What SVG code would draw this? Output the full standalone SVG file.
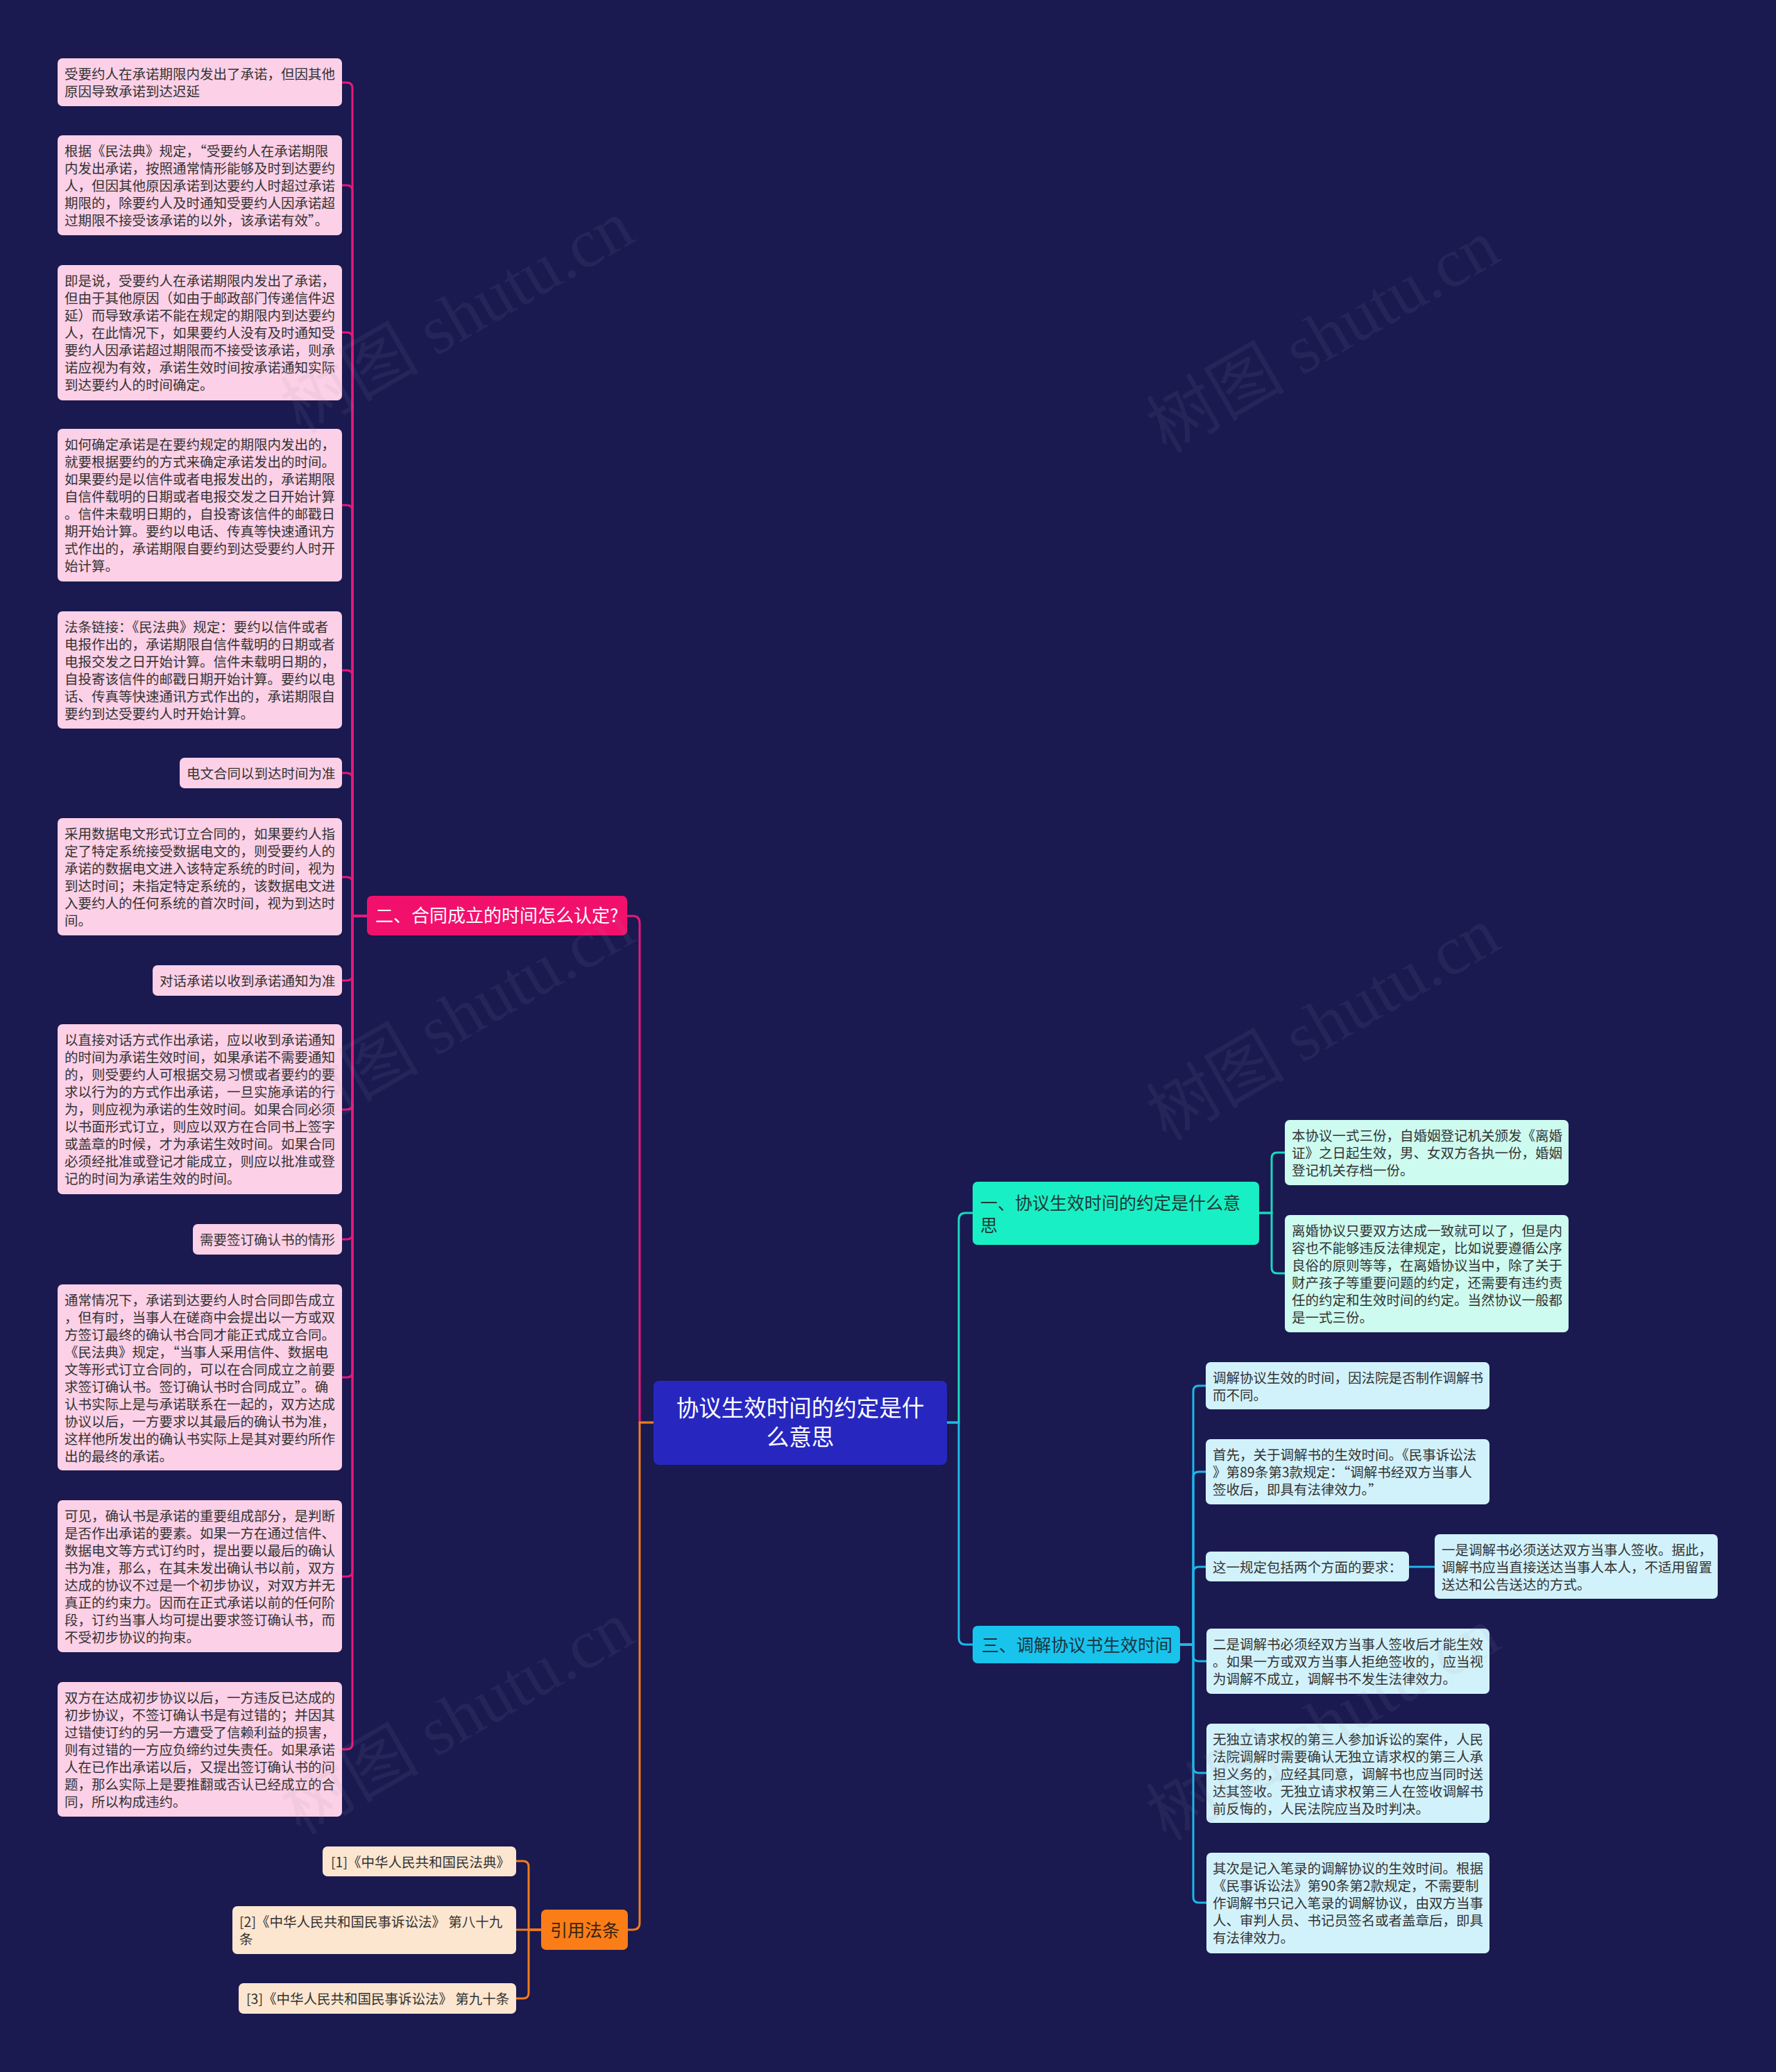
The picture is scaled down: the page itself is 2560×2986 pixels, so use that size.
<svg xmlns="http://www.w3.org/2000/svg" width="2560" height="2986" viewBox="0 0 2560 2986">
<style>
text{font-family:"Noto Sans CJK SC","Noto Sans",sans-serif}
.t{font-size:19.5px;fill:#333}
.pk{fill:#fcd0e6}
.mt{fill:#cdfbef}
.cy{fill:#d2f2fb}
.rf{fill:#fde6cf}
.ln{fill:none;stroke-width:3;stroke-linecap:round}
.wm{font-family:"Liberation Serif","Noto Sans CJK SC",serif;font-size:100px;fill:#9a9ab0;opacity:0.09}
</style>
<rect width="2560" height="2986" fill="#1a1950"/>

<g id="connectors">
<g stroke="#e8187a" class="ln">
<path d="M942,2050 H922 V1330 Q922,1320 912,1320 H904"/>
<path d="M529,1320 H508 V127 Q508,119 500,119 H493"/>
<path d="M529,1320 H508 V275 Q508,267 500,267 H493"/>
<path d="M529,1320 H508 V487 Q508,479 500,479 H493"/>
<path d="M529,1320 H508 V736 Q508,728 500,728 H493"/>
<path d="M529,1320 H508 V974 Q508,966 500,966 H493"/>
<path d="M529,1320 H508 V1122 Q508,1114 500,1114 H493"/>
<path d="M529,1320 H508 V1272 Q508,1264 500,1264 H493"/>
<path d="M529,1320 H508 V1405 Q508,1413 500,1413 H493"/>
<path d="M529,1320 H508 V1591 Q508,1599 500,1599 H493"/>
<path d="M529,1320 H508 V1778 Q508,1786 500,1786 H493"/>
<path d="M529,1320 H508 V1977 Q508,1985 500,1985 H493"/>
<path d="M529,1320 H508 V2264 Q508,2272 500,2272 H493"/>
<path d="M529,1320 H508 V2513 Q508,2521 500,2521 H493"/>
</g>
<g stroke="#f07c1c" class="ln">
<path d="M942,2050 H922 V2771 Q922,2781 912,2781 H905"/>
<path d="M780,2781 H762 V2690 Q762,2682 754,2682 H744"/>
<path d="M780,2781 H744"/>
<path d="M780,2781 H762 V2872 Q762,2880 754,2880 H744"/>
</g>
<g stroke="#1ad8c0" class="ln">
<path d="M1365,2050 H1382 V1758 Q1382,1748 1392,1748 H1402"/>
<path d="M1815,1748 H1833 V1669 Q1833,1661 1841,1661 H1852"/>
<path d="M1815,1748 H1833 V1827 Q1833,1835 1841,1835 H1852"/>
</g>
<g stroke="#1cb8e8" class="ln">
<path d="M1365,2050 H1382 V2360 Q1382,2370 1392,2370 H1402"/>
<path d="M1701,2370 H1720 V2005 Q1720,1997 1728,1997 H1738"/>
<path d="M1701,2370 H1720 V2129 Q1720,2121 1728,2121 H1738"/>
<path d="M1701,2370 H1720 V2266 Q1720,2258 1728,2258 H1738"/>
<path d="M2031,2258 H2068"/>
<path d="M1701,2370 H1720 V2386 Q1720,2394 1728,2394 H1739"/>
<path d="M1701,2370 H1720 V2547 Q1720,2555 1728,2555 H1739"/>
<path d="M1701,2370 H1720 V2734 Q1720,2742 1728,2742 H1739"/>
</g>
</g>

<g id="root">
<rect x="942" y="1990" width="423" height="121" rx="8" fill="#2727c0"/>
<text font-size="32.5" fill="#fff" text-anchor="middle"><tspan x="1153.5" y="2041">协议生效时间的约定是什</tspan><tspan x="1153.5" y="2083">么意思</tspan></text>
</g>

<g id="branch2">
<rect x="529" y="1291" width="375" height="57" rx="7" fill="#f2106d"/>
<text x="541" y="1329" font-size="26" fill="#fff">二、合同成立的时间怎么认定?</text>
</g>

<g id="n1"><rect class="pk" x="83" y="84" width="410" height="69" rx="7"/><text class="t"><tspan x="93" y="113.5">受要约人在承诺期限内发出了承诺，但因其他</tspan><tspan x="93" y="138.5">原因导致承诺到达迟延</tspan></text></g>
<g id="n2"><rect class="pk" x="83" y="195" width="410" height="144" rx="7"/><text class="t"><tspan x="93" y="224.5">根据《民法典》规定，“受要约人在承诺期限</tspan><tspan x="93" y="249.5">内发出承诺，按照通常情形能够及时到达要约</tspan><tspan x="93" y="274.5">人，但因其他原因承诺到达要约人时超过承诺</tspan><tspan x="93" y="299.5">期限的，除要约人及时通知受要约人因承诺超</tspan><tspan x="93" y="324.5">过期限不接受该承诺的以外，该承诺有效”。</tspan></text></g>
<g id="n3"><rect class="pk" x="83" y="382" width="410" height="195" rx="7"/><text class="t"><tspan x="93" y="411.5">即是说，受要约人在承诺期限内发出了承诺，</tspan><tspan x="93" y="436.5">但由于其他原因（如由于邮政部门传递信件迟</tspan><tspan x="93" y="461.5">延）而导致承诺不能在规定的期限内到达要约</tspan><tspan x="93" y="486.5">人，在此情况下，如果要约人没有及时通知受</tspan><tspan x="93" y="511.5">要约人因承诺超过期限而不接受该承诺，则承</tspan><tspan x="93" y="536.5">诺应视为有效，承诺生效时间按承诺通知实际</tspan><tspan x="93" y="561.5">到达要约人的时间确定。</tspan></text></g>
<g id="n4"><rect class="pk" x="83" y="618" width="410" height="220" rx="7"/><text class="t"><tspan x="93" y="647.5">如何确定承诺是在要约规定的期限内发出的，</tspan><tspan x="93" y="672.5">就要根据要约的方式来确定承诺发出的时间。</tspan><tspan x="93" y="697.5">如果要约是以信件或者电报发出的，承诺期限</tspan><tspan x="93" y="722.5">自信件载明的日期或者电报交发之日开始计算</tspan><tspan x="93" y="747.5">。信件未载明日期的，自投寄该信件的邮戳日</tspan><tspan x="93" y="772.5">期开始计算。要约以电话、传真等快速通讯方</tspan><tspan x="93" y="797.5">式作出的，承诺期限自要约到达受要约人时开</tspan><tspan x="93" y="822.5">始计算。</tspan></text></g>
<g id="n5"><rect class="pk" x="83" y="881" width="410" height="169" rx="7"/><text class="t"><tspan x="93" y="910.5">法条链接：《民法典》规定：要约以信件或者</tspan><tspan x="93" y="935.5">电报作出的，承诺期限自信件载明的日期或者</tspan><tspan x="93" y="960.5">电报交发之日开始计算。信件未载明日期的，</tspan><tspan x="93" y="985.5">自投寄该信件的邮戳日期开始计算。要约以电</tspan><tspan x="93" y="1010.5">话、传真等快速通讯方式作出的，承诺期限自</tspan><tspan x="93" y="1035.5">要约到达受要约人时开始计算。</tspan></text></g>
<g id="n6"><rect class="pk" x="259" y="1092" width="234" height="44" rx="7"/><text class="t" x="269" y="1121.5">电文合同以到达时间为准</text></g>
<g id="n7"><rect class="pk" x="83" y="1179" width="410" height="169" rx="7"/><text class="t"><tspan x="93" y="1208.5">采用数据电文形式订立合同的，如果要约人指</tspan><tspan x="93" y="1233.5">定了特定系统接受数据电文的，则受要约人的</tspan><tspan x="93" y="1258.5">承诺的数据电文进入该特定系统的时间，视为</tspan><tspan x="93" y="1283.5">到达时间；未指定特定系统的，该数据电文进</tspan><tspan x="93" y="1308.5">入要约人的任何系统的首次时间，视为到达时</tspan><tspan x="93" y="1333.5">间。</tspan></text></g>
<g id="n8"><rect class="pk" x="220" y="1391" width="273" height="44" rx="7"/><text class="t" x="230" y="1420.5">对话承诺以收到承诺通知为准</text></g>
<g id="n9"><rect class="pk" x="83" y="1476" width="410" height="245" rx="7"/><text class="t"><tspan x="93" y="1505.5">以直接对话方式作出承诺，应以收到承诺通知</tspan><tspan x="93" y="1530.5">的时间为承诺生效时间，如果承诺不需要通知</tspan><tspan x="93" y="1555.5">的，则受要约人可根据交易习惯或者要约的要</tspan><tspan x="93" y="1580.5">求以行为的方式作出承诺，一旦实施承诺的行</tspan><tspan x="93" y="1605.5">为，则应视为承诺的生效时间。如果合同必须</tspan><tspan x="93" y="1630.5">以书面形式订立，则应以双方在合同书上签字</tspan><tspan x="93" y="1655.5">或盖章的时候，才为承诺生效时间。如果合同</tspan><tspan x="93" y="1680.5">必须经批准或登记才能成立，则应以批准或登</tspan><tspan x="93" y="1705.5">记的时间为承诺生效的时间。</tspan></text></g>
<g id="n10"><rect class="pk" x="278" y="1764" width="215" height="44" rx="7"/><text class="t" x="288" y="1793.5">需要签订确认书的情形</text></g>
<g id="n11"><rect class="pk" x="83" y="1851" width="410" height="268" rx="7"/><text class="t"><tspan x="93" y="1880.5">通常情况下，承诺到达要约人时合同即告成立</tspan><tspan x="93" y="1905.5">，但有时，当事人在磋商中会提出以一方或双</tspan><tspan x="93" y="1930.5">方签订最终的确认书合同才能正式成立合同。</tspan><tspan x="93" y="1955.5">《民法典》规定，“当事人采用信件、数据电</tspan><tspan x="93" y="1980.5">文等形式订立合同的，可以在合同成立之前要</tspan><tspan x="93" y="2005.5">求签订确认书。签订确认书时合同成立”。确</tspan><tspan x="93" y="2030.5">认书实际上是与承诺联系在一起的，双方达成</tspan><tspan x="93" y="2055.5">协议以后，一方要求以其最后的确认书为准，</tspan><tspan x="93" y="2080.5">这样他所发出的确认书实际上是其对要约所作</tspan><tspan x="93" y="2105.5">出的最终的承诺。</tspan></text></g>
<g id="n12"><rect class="pk" x="83" y="2162" width="410" height="219" rx="7"/><text class="t"><tspan x="93" y="2191.5">可见，确认书是承诺的重要组成部分，是判断</tspan><tspan x="93" y="2216.5">是否作出承诺的要素。如果一方在通过信件、</tspan><tspan x="93" y="2241.5">数据电文等方式订约时，提出要以最后的确认</tspan><tspan x="93" y="2266.5">书为准，那么，在其未发出确认书以前，双方</tspan><tspan x="93" y="2291.5">达成的协议不过是一个初步协议，对双方并无</tspan><tspan x="93" y="2316.5">真正的约束力。因而在正式承诺以前的任何阶</tspan><tspan x="93" y="2341.5">段，订约当事人均可提出要求签订确认书，而</tspan><tspan x="93" y="2366.5">不受初步协议的拘束。</tspan></text></g>
<g id="n13"><rect class="pk" x="83" y="2424" width="410" height="194" rx="7"/><text class="t"><tspan x="93" y="2453.5">双方在达成初步协议以后，一方违反已达成的</tspan><tspan x="93" y="2478.5">初步协议，不签订确认书是有过错的；并因其</tspan><tspan x="93" y="2503.5">过错使订约的另一方遭受了信赖利益的损害，</tspan><tspan x="93" y="2528.5">则有过错的一方应负缔约过失责任。如果承诺</tspan><tspan x="93" y="2553.5">人在已作出承诺以后，又提出签订确认书的问</tspan><tspan x="93" y="2578.5">题，那么实际上是要推翻或否认已经成立的合</tspan><tspan x="93" y="2603.5">同，所以构成违约。</tspan></text></g>

<g id="refs">
<rect x="780" y="2752" width="125" height="58" rx="7" fill="#fa7d17"/>
<text x="793" y="2790.5" font-size="25" fill="#3a2412">引用法条</text>
</g>
<g id="r1"><rect class="rf" x="465" y="2661" width="279" height="43" rx="7"/><text class="t" x="477" y="2690.5">[1]《中华人民共和国民法典》</text></g>
<g id="r2"><rect class="rf" x="335" y="2747" width="409" height="69" rx="7"/><text class="t"><tspan x="345" y="2776.5">[2]《中华人民共和国民事诉讼法》 第八十九</tspan><tspan x="345" y="2801.5">条</tspan></text></g>
<g id="r3"><rect class="rf" x="344" y="2858" width="400" height="44" rx="7"/><text class="t" x="355" y="2887.5">[3]《中华人民共和国民事诉讼法》 第九十条</text></g>

<g id="branch1">
<rect x="1402" y="1703" width="413" height="91" rx="7" fill="#19efc4"/>
<text font-size="25" fill="#1f3a36"><tspan x="1413" y="1742.5">一、协议生效时间的约定是什么意</tspan><tspan x="1413" y="1774.5">思</tspan></text>
</g>
<g id="a1"><rect class="mt" x="1852" y="1614" width="409" height="94" rx="7"/><text class="t"><tspan x="1862" y="1643.5">本协议一式三份，自婚姻登记机关颁发《离婚</tspan><tspan x="1862" y="1668.5">证》之日起生效，男、女双方各执一份，婚姻</tspan><tspan x="1862" y="1693.5">登记机关存档一份。</tspan></text></g>
<g id="a2"><rect class="mt" x="1852" y="1751" width="409" height="169" rx="7"/><text class="t"><tspan x="1862" y="1780.5">离婚协议只要双方达成一致就可以了，但是内</tspan><tspan x="1862" y="1805.5">容也不能够违反法律规定，比如说要遵循公序</tspan><tspan x="1862" y="1830.5">良俗的原则等等，在离婚协议当中，除了关于</tspan><tspan x="1862" y="1855.5">财产孩子等重要问题的约定，还需要有违约责</tspan><tspan x="1862" y="1880.5">任的约定和生效时间的约定。当然协议一般都</tspan><tspan x="1862" y="1905.5">是一式三份。</tspan></text></g>

<g id="branch3">
<rect x="1402" y="2343" width="299" height="54" rx="7" fill="#18c4ec"/>
<text x="1415" y="2379.5" font-size="25" fill="#1d3440">三、调解协议书生效时间</text>
</g>
<g id="c1"><rect class="cy" x="1738" y="1963" width="409" height="68" rx="7"/><text class="t"><tspan x="1748" y="1992.5">调解协议生效的时间，因法院是否制作调解书</tspan><tspan x="1748" y="2017.5">而不同。</tspan></text></g>
<g id="c2"><rect class="cy" x="1738" y="2074" width="409" height="94" rx="7"/><text class="t"><tspan x="1748" y="2103.5">首先，关于调解书的生效时间。《民事诉讼法</tspan><tspan x="1748" y="2128.5">》第89条第3款规定：“调解书经双方当事人</tspan><tspan x="1748" y="2153.5">签收后，即具有法律效力。”</tspan></text></g>
<g id="c3"><rect class="cy" x="1738" y="2236" width="293" height="43" rx="7"/><text class="t" x="1748" y="2265.5">这一规定包括两个方面的要求：</text></g>
<g id="c3a"><rect class="cy" x="2068" y="2211" width="408" height="93" rx="7"/><text class="t"><tspan x="2078" y="2240.5">一是调解书必须送达双方当事人签收。据此，</tspan><tspan x="2078" y="2265.5">调解书应当直接送达当事人本人，不适用留置</tspan><tspan x="2078" y="2290.5">送达和公告送达的方式。</tspan></text></g>
<g id="c4"><rect class="cy" x="1739" y="2347" width="408" height="94" rx="7"/><text class="t"><tspan x="1748" y="2376.5">二是调解书必须经双方当事人签收后才能生效</tspan><tspan x="1748" y="2401.5">。如果一方或双方当事人拒绝签收的，应当视</tspan><tspan x="1748" y="2426.5">为调解不成立，调解书不发生法律效力。</tspan></text></g>
<g id="c5"><rect class="cy" x="1739" y="2484" width="408" height="143" rx="7"/><text class="t"><tspan x="1748" y="2513.5">无独立请求权的第三人参加诉讼的案件，人民</tspan><tspan x="1748" y="2538.5">法院调解时需要确认无独立请求权的第三人承</tspan><tspan x="1748" y="2563.5">担义务的，应经其同意，调解书也应当同时送</tspan><tspan x="1748" y="2588.5">达其签收。无独立请求权第三人在签收调解书</tspan><tspan x="1748" y="2613.5">前反悔的，人民法院应当及时判决。</tspan></text></g>
<g id="c6"><rect class="cy" x="1739" y="2670" width="408" height="145" rx="7"/><text class="t"><tspan x="1748" y="2699.5">其次是记入笔录的调解协议的生效时间。根据</tspan><tspan x="1748" y="2724.5">《民事诉讼法》第90条第2款规定，不需要制</tspan><tspan x="1748" y="2749.5">作调解书只记入笔录的调解协议，由双方当事</tspan><tspan x="1748" y="2774.5">人、审判人员、书记员签名或者盖章后，即具</tspan><tspan x="1748" y="2799.5">有法律效力。</tspan></text></g>

<g id="watermarks">
<text class="wm" transform="translate(676,486) rotate(-30)" text-anchor="middle">树图 shutu.cn</text>
<text class="wm" transform="translate(1924,514) rotate(-30)" text-anchor="middle">树图 shutu.cn</text>
<text class="wm" transform="translate(676,1495) rotate(-30)" text-anchor="middle">树图 shutu.cn</text>
<text class="wm" transform="translate(1924,1505) rotate(-30)" text-anchor="middle">树图 shutu.cn</text>
<text class="wm" transform="translate(676,2505) rotate(-30)" text-anchor="middle">树图 shutu.cn</text>
<text class="wm" transform="translate(1924,2514) rotate(-30)" text-anchor="middle">树图 shutu.cn</text>
</g>
</svg>
